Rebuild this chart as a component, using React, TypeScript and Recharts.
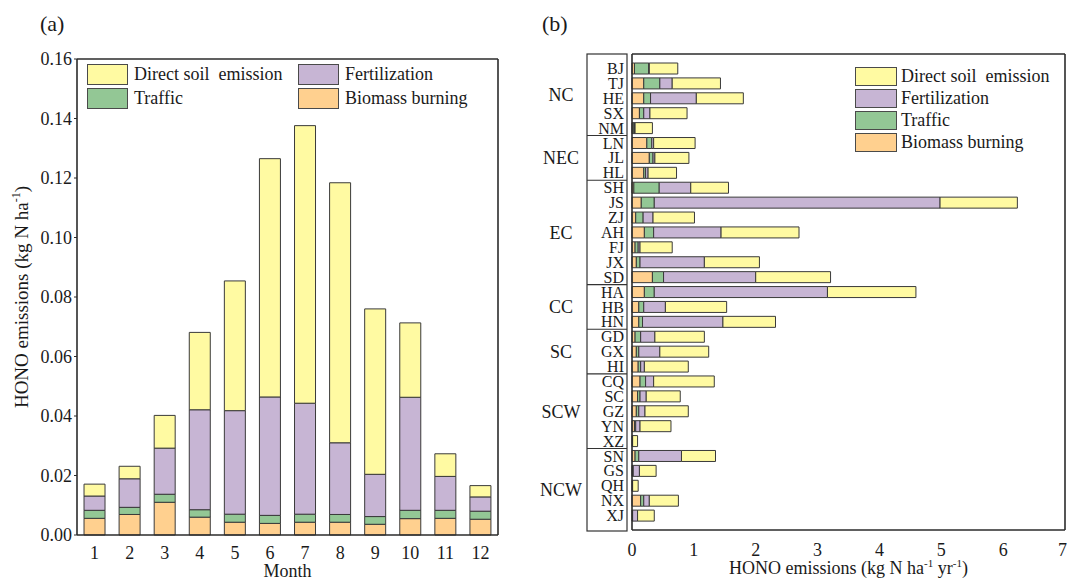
import React from 'react';
import { BarChart, Bar, XAxis, YAxis, Legend, CartesianGrid } from 'recharts';

const FONT = "'Liberation Serif', 'Times New Roman', serif";
const INK = '#1a1a1a';
const EDGE = '#3a3a3a';

// series, bottom to top of each stack
const seriesKeys = ['biomass', 'traffic', 'fert', 'soil'];
const seriesNames: Record<string, string> = {
  soil: 'Direct soil  emission',
  fert: 'Fertilization',
  traffic: 'Traffic',
  biomass: 'Biomass burning',
};
const seriesColors: Record<string, string> = {
  soil: '#FFFAA2',
  fert: '#C7B5D4',
  traffic: '#93C795',
  biomass: '#FFD08F',
};
const legendOrder = ['soil', 'fert', 'traffic', 'biomass'];

// (a) monthly emissions, kg N ha-1
const months = ['1', '2', '3', '4', '5', '6', '7', '8', '9', '10', '11', '12'];
const monthBiomass = [0.0056, 0.0069, 0.011, 0.006, 0.0043, 0.0039, 0.0043, 0.0043, 0.0036, 0.0055, 0.0056, 0.0053];
const monthTraffic = [0.0027, 0.0024, 0.0027, 0.0025, 0.0027, 0.0027, 0.0027, 0.0026, 0.0026, 0.0028, 0.0027, 0.0027];
const monthFert = [0.0048, 0.0096, 0.0155, 0.0336, 0.0348, 0.0398, 0.0373, 0.0241, 0.0142, 0.038, 0.0114, 0.0048];
const monthSoil = [0.004, 0.0042, 0.011, 0.026, 0.0436, 0.0801, 0.0933, 0.0874, 0.0556, 0.025, 0.0076, 0.0038];
const monthTicks = [0, 0.02, 0.04, 0.06, 0.08, 0.1, 0.12, 0.14, 0.16];

// (b) provincial emissions, kg N ha-1 yr-1
const provinces = ['BJ', 'TJ', 'HE', 'SX', 'NM', 'LN', 'JL', 'HL', 'SH', 'JS', 'ZJ', 'AH', 'FJ', 'JX', 'SD', 'HA', 'HB', 'HN', 'GD', 'GX', 'HI', 'CQ', 'SC', 'GZ', 'YN', 'XZ', 'SN', 'GS', 'QH', 'NX', 'XJ'];
const provBiomass = [0.04, 0.19, 0.19, 0.12, 0.02, 0.24, 0.28, 0.19, 0.03, 0.15, 0.06, 0.2, 0.05, 0.07, 0.33, 0.2, 0.11, 0.11, 0.05, 0.07, 0.1, 0.13, 0.09, 0.07, 0.04, 0.01, 0.05, 0.01, 0.01, 0.14, 0.01];
const provTraffic = [0.23, 0.26, 0.11, 0.07, 0.02, 0.08, 0.06, 0.03, 0.41, 0.21, 0.12, 0.15, 0.05, 0.06, 0.18, 0.16, 0.08, 0.06, 0.09, 0.04, 0.04, 0.09, 0.04, 0.04, 0.02, 0, 0.06, 0.01, 0, 0.05, 0];
const provFert = [0.01, 0.2, 0.74, 0.1, 0.01, 0.03, 0.03, 0.04, 0.51, 4.62, 0.16, 1.09, 0.03, 1.04, 1.49, 2.8, 0.35, 1.3, 0.23, 0.34, 0.06, 0.13, 0.1, 0.1, 0.07, 0, 0.69, 0.1, 0, 0.09, 0.08];
const provSoil = [0.46, 0.78, 0.76, 0.6, 0.28, 0.67, 0.55, 0.46, 0.61, 1.25, 0.67, 1.26, 0.52, 0.89, 1.21, 1.43, 0.99, 0.85, 0.8, 0.79, 0.71, 0.98, 0.55, 0.7, 0.5, 0.08, 0.55, 0.27, 0.09, 0.47, 0.27];
const provTicks = [0, 1, 2, 3, 4, 5, 6, 7];
const regionNames = ['NC', 'NEC', 'EC', 'CC', 'SC', 'SCW', 'NCW'];
const regionSizes = [5, 3, 7, 3, 3, 5, 5];

const monthData = months.map((m, i) => ({
  month: m,
  biomass: monthBiomass[i],
  traffic: monthTraffic[i],
  fert: monthFert[i],
  soil: monthSoil[i],
}));

const provData = provinces.map((p, i) => ({
  name: p,
  biomass: provBiomass[i],
  traffic: provTraffic[i],
  fert: provFert[i],
  soil: provSoil[i],
}));

// layout of panel (b), local svg coords
const R_TOP = 54;
const R_BOTTOM = 530;
const R_PAD = 7;
const BAND = (R_BOTTOM - R_TOP - 2 * R_PAD) / provinces.length;
const BOX_L = 47;
const BOX_R = 87;
const BOX_TOP = 54;
const BOX_BOTTOM = 531;
const REGION_X = 21;

const frame = { stroke: '#2b2b2b', strokeWidth: 1.6 };

// top and right edges of the plot frame, taken from the chart's own offset
const topEdge = (p: any) => [p.offset.top];
const rightEdge = (p: any) => [p.offset.left + p.offset.width];

function LegendBox({ k, w, h }: { k: string; w: number; h: number }) {
  return (
    <div
      style={{
        width: w,
        height: h,
        boxSizing: 'border-box',
        background: seriesColors[k],
        border: '1.5px solid #4a4a4a',
        flexShrink: 0,
      }}
    />
  );
}

function LeftLegend() {
  return (
    <div style={{ display: 'grid', gridTemplateColumns: '211px 211px', rowGap: 3, fontFamily: FONT, color: INK }}>
      {legendOrder.map((k) => (
        <div key={k} style={{ display: 'flex', alignItems: 'center', height: 21 }}>
          <LegendBox k={k} w={41} h={21} />
          <span style={{ marginLeft: 6, fontSize: 18, whiteSpace: 'pre', lineHeight: '21px' }}>{seriesNames[k]}</span>
        </div>
      ))}
    </div>
  );
}

function RightLegend() {
  return (
    <div style={{ display: 'flex', flexDirection: 'column', rowGap: 3, fontFamily: FONT, color: INK }}>
      {legendOrder.map((k) => (
        <div key={k} style={{ display: 'flex', alignItems: 'center', height: 19 }}>
          <LegendBox k={k} w={42} h={19} />
          <span style={{ marginLeft: 4, fontSize: 18, whiteSpace: 'pre', lineHeight: '19px' }}>{seriesNames[k]}</span>
        </div>
      ))}
    </div>
  );
}

function ProvinceTick(props: any) {
  const { x, y, payload, index } = props;
  const parts: React.ReactNode[] = [];
  if (index === 0) {
    parts.push(
      <rect key="box" x={BOX_L} y={BOX_TOP} width={BOX_R - BOX_L} height={BOX_BOTTOM - BOX_TOP} fill="none" stroke="#333" strokeWidth={1.2} />
    );
  }
  let start = 0;
  regionSizes.forEach((n, g) => {
    const end = start + n - 1;
    const mid = start + (n - 1) / 2;
    if (index === start && start > 0) {
      const ly = y - BAND / 2;
      parts.push(<line key={'d' + g} x1={BOX_L} x2={BOX_R} y1={ly} y2={ly} stroke="#333" strokeWidth={1.2} />);
    }
    if (index === mid) {
      const top = start === 0 ? BOX_TOP : y - (mid - start) * BAND - BAND / 2;
      const bottom = g === regionSizes.length - 1 ? BOX_BOTTOM : y + (end - mid) * BAND + BAND / 2;
      parts.push(
        <text key={'r' + g} x={REGION_X} y={(top + bottom) / 2} dy="0.35em" textAnchor="middle" fontSize={18} fontFamily={FONT} fill={INK}>
          {regionNames[g]}
        </text>
      );
    }
    start += n;
  });
  return (
    <g>
      {parts}
      <text x={x} y={y} dy="0.35em" textAnchor="end" fontSize={16} fontFamily={FONT} fill={INK}>
        {payload.value}
      </text>
    </g>
  );
}

const monthLabel = (p: any) => {
  const vb = p.viewBox || { x: 77, y: 535, width: 421 };
  return (
    <text x={vb.x + vb.width / 2} y={vb.y + 42} textAnchor="middle" fontSize={18} fontFamily={FONT} fill={INK}>
      Month
    </text>
  );
};

const hono1Label = (p: any) => {
  const vb = p.viewBox || { x: 0, y: 59, width: 77, height: 476 };
  const cx = vb.x + 28;
  const cy = vb.y + vb.height / 2;
  return (
    <text x={cx} y={cy} transform={`rotate(-90, ${cx}, ${cy})`} textAnchor="middle" fontSize={19} fontFamily={FONT} fill={INK}>
      HONO emissions (kg N ha
      <tspan fontSize={12} dy={-8}>-1</tspan>
      <tspan dy={8}>)</tspan>
    </text>
  );
};

const hono2Label = (p: any) => {
  const vb = p.viewBox || { x: 92, y: 530, width: 433 };
  return (
    <text x={vb.x + vb.width / 2} y={vb.y + 44} textAnchor="middle" fontSize={18} fontFamily={FONT} fill={INK}>
      HONO emissions (kg N ha
      <tspan fontSize={11} dy={-7}>-1</tspan>
      <tspan dy={7}> yr</tspan>
      <tspan fontSize={11} dy={-7}>-1</tspan>
      <tspan dy={7}>)</tspan>
    </text>
  );
};

function MonthlyChart() {
  return (
    <BarChart width={540} height={581} data={monthData} margin={{ top: 59, right: 42, bottom: 0, left: 0 }} barCategoryGap="20%">
      <CartesianGrid
        horizontalCoordinatesGenerator={topEdge}
        verticalCoordinatesGenerator={rightEdge}
        stroke="#2b2b2b"
        strokeWidth={1.6}
        fill="none"
      />
      <XAxis
        dataKey="month"
        height={46}
        tickLine={false}
        tickSize={5}
        tickMargin={6}
        axisLine={frame}
        tick={{ fontSize: 18, fontFamily: FONT, fill: INK }}
        interval={0}
        label={monthLabel}
      />
      <YAxis
        width={77}
        domain={[0, 0.16]}
        ticks={monthTicks}
        tickFormatter={(v: number) => v.toFixed(2)}
        tickSize={3}
        tickMargin={2}
        tickLine={{ stroke: '#2b2b2b' }}
        axisLine={frame}
        tick={{ fontSize: 18, fontFamily: FONT, fill: INK }}
        label={hono1Label}
      />
      <Legend
        layout="vertical"
        verticalAlign="middle"
        align="center"
        wrapperStyle={{ left: 87, top: 64, width: 430, height: 45 }}
        content={() => <LeftLegend />}
      />
      {seriesKeys.map((k) => (
        <Bar key={k} dataKey={k} name={seriesNames[k]} stackId="a" fill={seriesColors[k]} stroke={EDGE} strokeWidth={1} isAnimationActive={false} />
      ))}
    </BarChart>
  );
}

function ProvinceChart() {
  return (
    <BarChart width={527} height={581} data={provData} layout="vertical" margin={{ top: R_TOP, right: 2, bottom: 0, left: 0 }} barSize={11}>
      <CartesianGrid
        horizontalCoordinatesGenerator={topEdge}
        verticalCoordinatesGenerator={rightEdge}
        stroke="#2b2b2b"
        strokeWidth={1.6}
        fill="none"
      />
      <XAxis
        type="number"
        domain={[0, 7]}
        ticks={provTicks}
        height={581 - R_BOTTOM}
        tickLine={false}
        tickSize={6}
        tickMargin={7}
        axisLine={frame}
        tick={{ fontSize: 18, fontFamily: FONT, fill: INK }}
        label={hono2Label}
      />
      <YAxis
        type="category"
        dataKey="name"
        width={92}
        interval={0}
        padding={{ top: R_PAD, bottom: R_PAD }}
        tickLine={false}
        tickSize={6}
        tickMargin={2}
        axisLine={frame}
        tick={(p: any) => <ProvinceTick {...p} />}
      />
      <Legend
        layout="vertical"
        verticalAlign="middle"
        align="center"
        wrapperStyle={{ left: 315, top: 67, width: 200, height: 90 }}
        content={() => <RightLegend />}
      />
      {seriesKeys.map((k) => (
        <Bar key={k} dataKey={k} name={seriesNames[k]} stackId="b" fill={seriesColors[k]} stroke={EDGE} strokeWidth={1} isAnimationActive={false} />
      ))}
    </BarChart>
  );
}

export default function App() {
  return (
    <div style={{ position: 'absolute', left: 0, top: 0, width: 1067, height: 581, background: '#fff', overflow: 'hidden' }}>
      <div style={{ position: 'absolute', left: 0, top: 0 }}>
        <MonthlyChart />
      </div>
      <div style={{ position: 'absolute', left: 540, top: 0 }}>
        <ProvinceChart />
      </div>
      <svg width={1067} height={40} style={{ position: 'absolute', left: 0, top: 0, pointerEvents: 'none' }}>
        <text x={40} y={31} fontSize={22} fontFamily={FONT} fill={INK}>(a)</text>
        <text x={542} y={31} fontSize={22} fontFamily={FONT} fill={INK}>(b)</text>
      </svg>
    </div>
  );
}
